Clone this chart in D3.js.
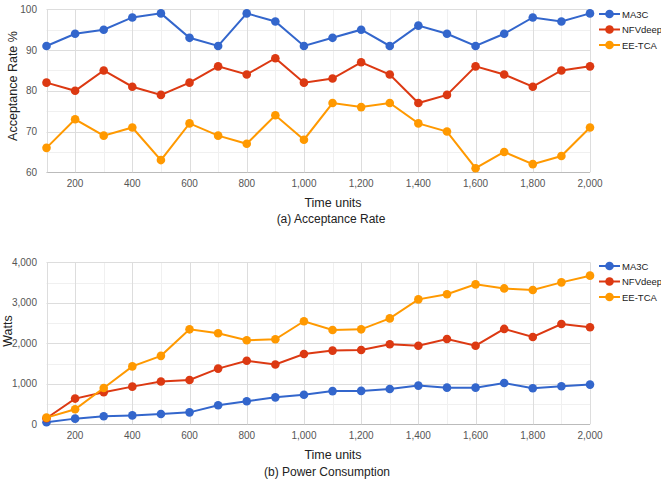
<!DOCTYPE html>
<html lang="en">
<head>
<meta charset="UTF-8">
<title>Acceptance Rate and Power Consumption</title>
<script src="https://d3js.org/d3.v7.min.js"></script>
<style>
    body { margin: 0; background: #fff; font-family: "Liberation Sans", Arial, sans-serif; }
    .tick-label { font-size: 10px; fill: #555; }
    .axis-title { font-size: 12.5px; fill: #222; }
    .caption { font-size: 12px; fill: #222; }
    .legend-text { font-size: 9.5px; fill: #222; }
</style>
</head>
<body>
<script>
    // time units on the x axis
    const timeUnits = d3.range(100, 2001, 100);
    const seriesNames = ["MA3C", "NFVdeep", "EE-TCA"];
    const colors = ["#3366cc", "#dc3912", "#ff9900"];

    // (a) acceptance rate %
    const accMA3C = [91, 94, 95, 98, 99, 93, 91, 99, 97, 91, 93, 95, 91, 96, 94, 91, 94, 98, 97, 99];
    const accNFVdeep = [82, 80, 85, 81, 79, 82, 86, 84, 88, 82, 83, 87, 84, 77, 79, 86, 84, 81, 85, 86];
    const accEETCA = [66, 73, 69, 71, 63, 72, 69, 67, 74, 68, 77, 76, 77, 72, 70, 61, 65, 62, 64, 71];

    // (b) power consumption in watts
    const powMA3C = [50, 140, 200, 220, 255, 295, 470, 570, 665, 730, 820, 825, 870, 955, 905, 905, 1020, 890, 940, 980];
    const powNFVdeep = [150, 635, 790, 930, 1055, 1095, 1375, 1570, 1475, 1735, 1820, 1835, 1975, 1940, 2105, 1940, 2355, 2155, 2475, 2395];
    const powEETCA = [165, 370, 895, 1430, 1690, 2345, 2250, 2075, 2100, 2545, 2330, 2345, 2615, 3085, 3210, 3455, 3355, 3315, 3505, 3670];

    const xTicks = d3.range(200, 2001, 200);
    const accTicks = [60, 70, 80, 90, 100];
    const powTicks = [0, 1000, 2000, 3000, 4000];

    const svg = d3.select("body").append("svg")
        .attr("width", 661)
        .attr("height", 481);

    const x = d3.scaleLinear().domain([100, 2000]).range([46.5, 590]);

    function drawPanel(opts) {
        const y = d3.scaleLinear().domain(opts.domain).range([opts.bottom, opts.top]);
        const g = svg.append("g");

        // minor grid
        const step = opts.ticks[1] - opts.ticks[0];
        const minorY = opts.ticks.slice(0, -1).map(t => t + step / 2);
        g.selectAll(".minor-y").data(minorY).enter().append("line")
            .attr("x1", x(100)).attr("x2", x(2000))
            .attr("y1", d => Math.round(y(d)) + 0.5).attr("y2", d => Math.round(y(d)) + 0.5)
            .attr("stroke", "#f0f0f0");
        const minorX = d3.range(100, 2000, 200);
        g.selectAll(".minor-x").data(minorX).enter().append("line")
            .attr("x1", d => Math.round(x(d)) + 0.5).attr("x2", d => Math.round(x(d)) + 0.5)
            .attr("y1", opts.top).attr("y2", opts.bottom)
            .attr("stroke", "#f0f0f0");

        // major grid
        g.selectAll(".major-y").data(opts.ticks).enter().append("line")
            .attr("x1", x(100)).attr("x2", x(2000))
            .attr("y1", d => Math.round(y(d)) + 0.5).attr("y2", d => Math.round(y(d)) + 0.5)
            .attr("stroke", (d, i) => i === 0 ? "#bbb" : "#ddd");
        g.selectAll(".major-x").data(xTicks).enter().append("line")
            .attr("x1", d => Math.round(x(d)) + 0.5).attr("x2", d => Math.round(x(d)) + 0.5)
            .attr("y1", opts.top).attr("y2", opts.bottom)
            .attr("stroke", "#ddd");
        g.append("line")
            .attr("x1", Math.round(x(100)) + 0.5).attr("x2", Math.round(x(100)) + 0.5)
            .attr("y1", opts.top).attr("y2", opts.bottom)
            .attr("stroke", "#ddd");

        // tick labels
        g.selectAll(".ylab").data(opts.ticks).enter().append("text")
            .attr("class", "tick-label")
            .attr("x", 37).attr("y", d => y(d) + 3.5)
            .attr("text-anchor", "end")
            .text(d => d3.format(",")(d));
        g.selectAll(".xlab").data(xTicks).enter().append("text")
            .attr("class", "tick-label")
            .attr("x", d => x(d)).attr("y", opts.bottom + 14.5)
            .attr("text-anchor", "middle")
            .text(d => d3.format(",")(d));

        // titles
        g.append("text").attr("class", "axis-title")
            .attr("x", 333).attr("y", opts.bottom + 34.5)
            .attr("text-anchor", "middle").text("Time units");
        g.append("text").attr("class", "caption")
            .attr("x", opts.captionX).attr("y", opts.bottom + opts.captionDy)
            .attr("text-anchor", "middle").text(opts.caption);
        g.append("text").attr("class", "axis-title")
            .attr("transform", `translate(${opts.yTitleX},${opts.yTitleY}) rotate(-90)`)
            .attr("text-anchor", "middle").text(opts.yTitle);

        // series
        const line = d3.line().x((d, i) => x(timeUnits[i])).y(d => y(d));
        opts.series.forEach((vals, s) => {
            g.append("path").datum(vals)
                .attr("fill", "none")
                .attr("stroke", colors[s])
                .attr("stroke-width", 2)
                .attr("d", line);
            g.selectAll(null).data(vals).enter().append("circle")
                .attr("cx", (d, i) => x(timeUnits[i]))
                .attr("cy", d => y(d))
                .attr("r", 4.3)
                .attr("fill", colors[s]);
        });

        // legend
        seriesNames.forEach((name, s) => {
            const ly = opts.legendY + s * 15.5;
            g.append("line").attr("x1", 599).attr("x2", 620)
                .attr("y1", ly).attr("y2", ly)
                .attr("stroke", colors[s]).attr("stroke-width", 2);
            g.append("circle").attr("cx", 609.5).attr("cy", ly).attr("r", 4.3).attr("fill", colors[s]);
            g.append("text").attr("class", "legend-text")
                .attr("x", 622).attr("y", ly + 3.5).text(name);
        });
    }

    drawPanel({
        domain: [60, 100], ticks: accTicks, top: 9.3, bottom: 172.3,
        series: [accMA3C, accNFVdeep, accEETCA],
        caption: "(a) Acceptance Rate", captionX: 331, captionDy: 50.5,
        yTitle: "Acceptance Rate %", yTitleX: 16.5, yTitleY: 86,
        legendY: 14
    });

    drawPanel({
        domain: [0, 4000], ticks: powTicks, top: 262.3, bottom: 424.3,
        series: [powMA3C, powNFVdeep, powEETCA],
        caption: "(b) Power Consumption", captionX: 327, captionDy: 52,
        yTitle: "Watts", yTitleX: 12, yTitleY: 331,
        legendY: 266
    });
</script>
</body>
</html>
